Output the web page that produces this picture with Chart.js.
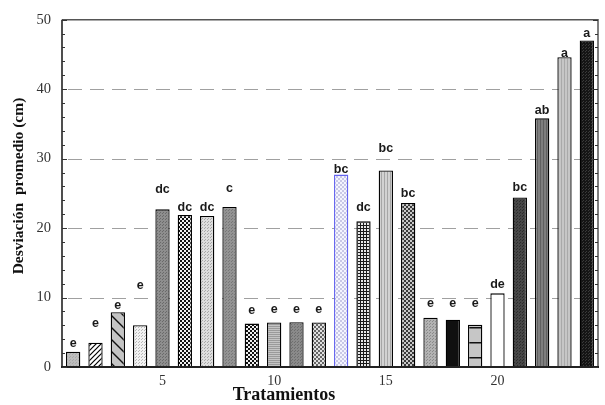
<!DOCTYPE html>
<html><head><meta charset="utf-8">
<script src="https://cdn.jsdelivr.net/npm/chart.js@4/dist/chart.umd.min.js"></script>
<style>html,body{margin:0;padding:0;background:#fff;overflow:hidden}</style>
</head><body>
<canvas id="c" width="605" height="405"></canvas>
<script>
// ---- data ----
const categories = ['1','2','3','4','5','6','7','8','9','10','11','12','13','14','15','16','17','18','19','20','21','22','23','24'];
const values = [2.2, 3.5, 7.9, 6.0, 22.7, 21.9, 21.75, 23.05, 6.25, 6.4, 6.45, 6.4, 27.7, 21.0, 28.3, 23.6, 7.1, 6.8, 6.1, 10.6, 24.4, 35.8, 44.6, 47.0];
const letters = ['e','e','e','e','dc','dc','dc','c','e','e','e','e','bc','dc','bc','bc','e','e','e','de','bc','ab','a','a'];
const xTickLabels = ['5','10','15','20'];
const yTickValues = [0, 10, 20, 30, 40, 50];
const gridValues = [10, 20, 30, 40];

// ---- styling (not data) ----
const labelGap = [8,19,7,40,20,7,8,18,13,13,13,13,5,14,22,10,14,16,21,9,10,8,4,7];

const canvas = document.getElementById('c');
const ctx = canvas.getContext('2d');

function tile(w, h, draw) {
  const c = document.createElement('canvas');
  c.width = w; c.height = h;
  const g = c.getContext('2d');
  draw(g, w, h);
  return ctx.createPattern(c, 'repeat');
}
function stipple(bg, fg) {
  return tile(3, 3, (g) => { g.fillStyle = bg; g.fillRect(0,0,3,3); g.fillStyle = fg; g.fillRect(0,0,1,1); g.fillRect(1,2,1,1); });
}
function checker(a, b, s) {
  return tile(2*s, 2*s, (g) => { g.fillStyle = b; g.fillRect(0,0,2*s,2*s); g.fillStyle = a; g.fillRect(0,0,s,s); g.fillRect(s,s,s,s); });
}
function mesh(bg, fg) {
  return tile(3, 3, (g) => { g.fillStyle = fg; g.fillRect(0,0,3,3); g.fillStyle = bg; g.fillRect(1,1,2,2); });
}
function diag(bg, fg, s, dir, lw) {
  return tile(s, s, (g) => {
    g.fillStyle = bg; g.fillRect(0,0,s,s);
    g.strokeStyle = fg; g.lineWidth = lw;
    g.beginPath();
    if (dir === '/') {
      g.moveTo(0, s); g.lineTo(s, 0);
      g.moveTo(-2, 2); g.lineTo(2, -2);
      g.moveTo(s-2, s+2); g.lineTo(s+2, s-2);
    } else {
      g.moveTo(0, 0); g.lineTo(s, s);
      g.moveTo(-2, s-2); g.lineTo(2, s+2);
      g.moveTo(s-2, -2); g.lineTo(s+2, 2);
    }
    g.stroke();
  });
}
function lines(bg, fg, s, vertical, off, lw) {
  return tile(s, s, (g) => {
    g.fillStyle = bg; g.fillRect(0,0,s,s);
    g.fillStyle = fg;
    if (vertical) g.fillRect(off, 0, lw, s); else g.fillRect(0, off, s, lw);
  });
}

const fills = [
  stipple('#bdbdbd', '#a8a8a8'),
  diag('#ffffff', '#000000', 5, '/', 1.2),
  diag('#c4c4c4', '#111111', 12, '\\', 1.4),
  stipple('#f2f2f2', '#b8b8b8'),
  stipple('#8e8e8e', '#6a6a6a'),
  checker('#111111', '#f0f0f0', 2),
  stipple('#dedede', '#a8a8a8'),
  stipple('#939393', '#777777'),
  checker('#111111', '#f0f0f0', 2),
  lines('#c4c4c4', '#9a9a9a', 2, false, 0, 1),
  stipple('#8a8a8a', '#6e6e6e'),
  checker('#666666', '#e0e0e0', 2),
  checker('#c8c8e6', '#f4f4ff', 2),
  mesh('#e8e8e8', '#1a1a1a'),
  lines('#d2d2d2', '#a6a6a6', 3, true, 0, 1),
  checker('#3a3a3a', '#c8c8c8', 2),
  stipple('#b2b2b2', '#8a8a8a'),
  '#101010',
  lines('#c6c6c6', '#111111', 15, false, 12, 1.5),
  '#ffffff',
  stipple('#474747', '#2c2c2c'),
  lines('#7e7e7e', '#606060', 3, true, 0, 1),
  lines('#c6c6c6', '#a9a9a9', 3, true, 0, 1),
  stipple('#151515', '#3a3a3a')
];
const borders = categories.map((c, i) => i === 12 ? '#6464f0' : '#000000');

const framePlugin = {
  id: 'frame',
  beforeDatasetsDraw(chart) {
    const { ctx, chartArea: a, scales: { y } } = chart;
    ctx.save();
    ctx.strokeStyle = '#a0a0a0';
    ctx.lineWidth = 1.2;
    ctx.setLineDash([14, 8]);
    gridValues.forEach(v => {
      const py = Math.round(y.getPixelForValue(v)) + 0.5;
      ctx.beginPath(); ctx.moveTo(a.left + 6, py); ctx.lineTo(a.right, py); ctx.stroke();
    });
    ctx.restore();
  },
  afterDatasetsDraw(chart) {
    const { ctx, chartArea: a, scales: { x, y } } = chart;
    ctx.save();
    // frame
    ctx.strokeStyle = '#555555'; ctx.lineWidth = 1.5;
    ctx.beginPath(); ctx.moveTo(a.left, a.top); ctx.lineTo(a.right, a.top); ctx.lineTo(a.right, a.bottom); ctx.stroke();
    ctx.strokeStyle = '#222222'; ctx.lineWidth = 1.6;
    ctx.beginPath(); ctx.moveTo(a.left, a.top); ctx.lineTo(a.left, a.bottom); ctx.stroke();
    ctx.lineWidth = 2;
    ctx.beginPath(); ctx.moveTo(a.left - 1, a.bottom); ctx.lineTo(a.right + 1, a.bottom); ctx.stroke();
    // inward ticks
    ctx.lineWidth = 1; ctx.strokeStyle = '#333333';
    for (let v = 0; v <= 50; v += 2) {
      const py = Math.round(y.getPixelForValue(v)) + 0.5;
      const len = (v % 10 === 0) ? 5 : 3;
      ctx.beginPath(); ctx.moveTo(a.left, py); ctx.lineTo(a.left + len, py); ctx.stroke();
      ctx.beginPath(); ctx.moveTo(a.right, py); ctx.lineTo(a.right - len, py); ctx.stroke();
    }
    // letters
    const meta = chart.getDatasetMeta(0);
    ctx.fillStyle = '#1a1a1a';
    ctx.font = 'bold 12.5px "Liberation Sans", Arial, sans-serif';
    ctx.textAlign = 'center'; ctx.textBaseline = 'middle';
    meta.data.forEach((el, i) => {
      ctx.fillText(letters[i], el.x, el.y - labelGap[i]);
    });
    // axis titles
    ctx.fillStyle = '#111111';
    ctx.font = 'bold 18px "Liberation Serif", "Times New Roman", serif';
    ctx.textBaseline = 'alphabetic';
    ctx.fillText('Tratamientos', 284, 400);
    ctx.translate(19, 186);
    ctx.rotate(-Math.PI / 2);
    ctx.font = 'bold 15.5px "Liberation Serif", "Times New Roman", serif';
    ctx.textBaseline = 'middle';
    ctx.fillText('Desviación  promedio (cm)', 0, 0);
    ctx.restore();
  }
};

new Chart(ctx, {
  type: 'bar',
  data: {
    labels: categories,
    datasets: [{
      data: values,
      backgroundColor: fills,
      borderColor: borders,
      borderWidth: 1.3,
      barPercentage: 0.64,
      categoryPercentage: 1.0
    }]
  },
  options: {
    responsive: false,
    animation: false,
    devicePixelRatio: 1,
    layout: { padding: { top: 10, right: 7, left: 0, bottom: 0 } },
    plugins: { legend: { display: false }, tooltip: { enabled: false }, title: { display: false } },
    scales: {
      x: {
        offset: true,
        grid: { display: false, drawTicks: false },
        border: { display: false },
        ticks: {
          autoSkip: false, maxRotation: 0, padding: 6,
          color: '#333333',
          font: { family: '"Liberation Serif", "Times New Roman", serif', size: 14 },
          callback: function (val, idx) { const l = categories[idx]; return xTickLabels.includes(l) ? l : ''; }
        },
        afterFit: (s) => { s.height = 38; }
      },
      y: {
        min: 0, max: 50,
        grid: { display: false, drawTicks: false },
        border: { display: false },
        ticks: {
          stepSize: 10, padding: 11, color: '#333333',
          font: { family: '"Liberation Serif", "Times New Roman", serif', size: 14.5 },
          callback: (v) => yTickValues.includes(v) ? String(v) : ''
        },
        afterFit: (s) => { s.width = 62; }
      }
    }
  },
  plugins: [framePlugin]
});
</script>
</body></html>
